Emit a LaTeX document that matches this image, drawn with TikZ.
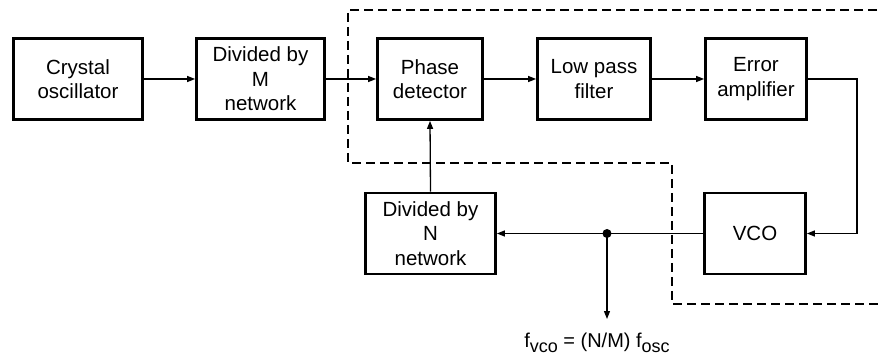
\documentclass[tikz,border=0pt]{standalone}
\usepackage{fontspec}
\setmainfont{Liberation Sans}
\usetikzlibrary{arrows.meta}
\begin{document}
\begin{tikzpicture}[x=1pt,y=-1pt,
  blk/.style={draw=black,line width=2.8pt,rectangle,inner sep=0pt,minimum height=81pt,
    align=center,font=\fontsize{20.5}{24.5}\selectfont},
  conn/.style={line width=1.3pt,-{Triangle[length=8pt,width=6pt]}},
  wire/.style={line width=1.3pt},
  loopline/.style={line width=1.5pt,dash pattern=on 9pt off 5pt},
  lbl/.style={font=\fontsize{20}{24}\selectfont,inner sep=0pt}]
\useasboundingbox (0,0) rectangle (881,358);
\fill[white] (0,0) rectangle (881,358);
\node[blk,minimum width=129pt] (xo) at (78,79) {Crystal\\oscillator};
\node[blk,minimum width=128pt] (dm) at (260.5,79) {Divided by\\M\\network};
\node[blk,minimum width=105pt] (pd) at (430,79) {Phase\\detector};
\node[blk,minimum width=113pt] (lp) at (594,79) {Low pass\\filter};
\node[blk,minimum width=101pt] (ea) at (756,79) {Error\\amplifier};
\node[blk,minimum width=101pt] (vco) at (755,233.5) {VCO};
\node[blk,minimum width=130pt] (dn) at (430.5,233.5) {Divided by\\N\\network};
\coordinate (rt) at (857,79);
\coordinate (rb) at (857,233.5);
\coordinate (jn) at (607,233.5);
\coordinate (out) at (607,319);
\node[lbl,anchor=base] (fl) at (597,347) {f\raisebox{-5pt}{\fontsize{18}{18}\selectfont vco} = (N/M) f\raisebox{-5pt}{\fontsize{18}{18}\selectfont osc}};
\draw[loopline] (891,10) -- (348,10) -- (348,163) -- (672,163) -- (672,304) -- (891,304);
\draw[conn] (xo.east) -- (dm.west);
\draw[conn] (dm.east) -- (pd.west);
\draw[conn] (pd.east) -- (lp.west);
\draw[conn] (lp.east) -- (ea.west);
\draw[conn] (ea.east) -- (rt) -- (rb) -- (vco.east);
\draw[conn] (vco.west) -- (dn.east);
\draw[conn] (jn) -- (out);
\draw[conn] (dn.north) -- (pd.south);
\fill (jn) circle (4.5pt);
\end{tikzpicture}
\end{document}
